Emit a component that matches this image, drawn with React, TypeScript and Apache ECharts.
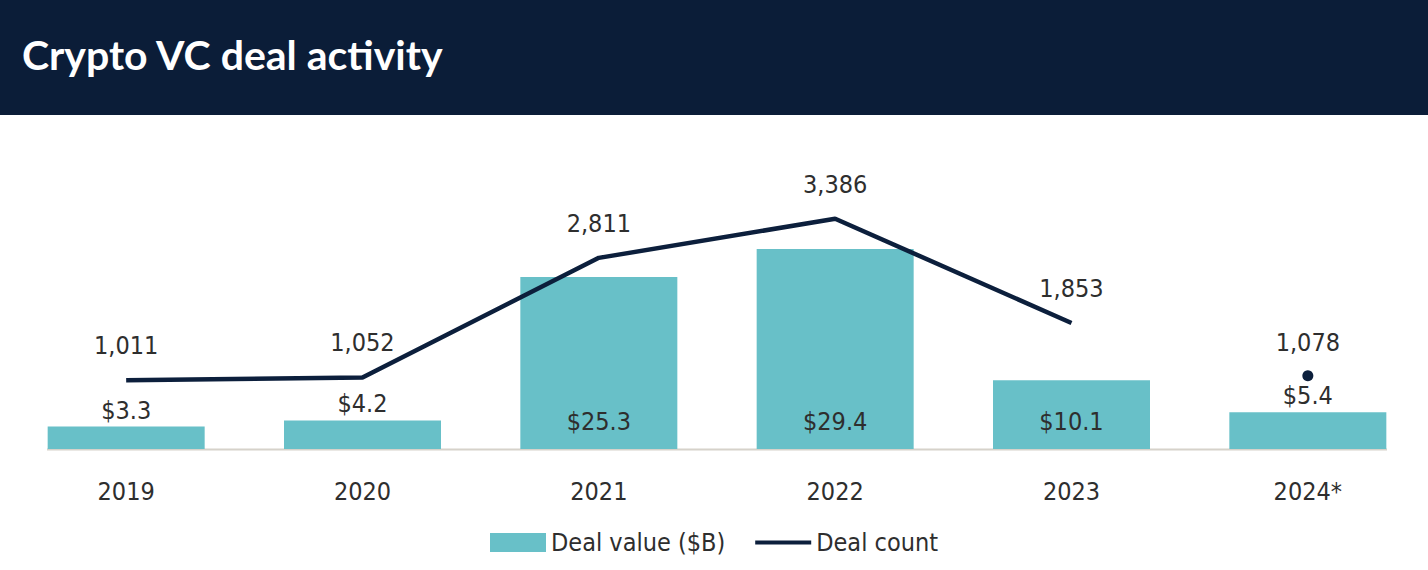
import React, { useEffect, useRef } from "react";
import * as echarts from "echarts";

const categories = ["2019", "2020", "2021", "2022", "2023", "2024*"];
const dealValue = [3.3, 4.2, 25.3, 29.4, 10.1, 5.4];
const dealCount: (number | null)[] = [1011, 1052, 2811, 3386, 1853, null];
const dealCount2024: (number | null)[] = [null, null, null, null, null, 1078];

const FONT = "'DejaVu Sans Condensed', 'Liberation Sans Narrow', sans-serif";
const TEAL = "#68c0c8";
const NAVY = "#0c1f3c";
const TEXT = "#2e2e2e";
const FS = 25;

export default function App() {
  const ref = useRef<HTMLDivElement>(null);
  useEffect(() => {
    if (!ref.current) return;
    const chart = echarts.init(ref.current, null, { renderer: "svg" });
    const fmtCount = (p: any) => Number(p.value).toLocaleString("en-US");
    const toData = (arr: (number | null)[]) => arr.map((v) => (v === null ? "-" : v));
    const countLabel = {
      show: true,
      position: "top",
      fontFamily: FONT,
      fontSize: FS,
      color: TEXT,
      formatter: fmtCount,
    };
    chart.setOption({
      animation: false,
      backgroundColor: "#ffffff",
      title: {
        text: "Crypto VC deal activity",
        left: 17,
        top: 29,
        textStyle: { color: "#ffffff", fontFamily: "Lato", fontWeight: "bold", fontSize: 41 },
      },
      graphic: [
        { type: "rect", z: -1, shape: { x: 0, y: 0, width: 1428, height: 115 }, style: { fill: "#0b1d38" } },
        { type: "line", z: 0, shape: { x1: 47, y1: 449.5, x2: 1387, y2: 449.5 }, style: { stroke: "#d6d2ca", lineWidth: 2 } },
      ],
      legend: {
        bottom: 10,
        left: "center",
        itemWidth: 56,
        itemHeight: 19,
        itemGap: 28,
        data: [
          { name: "Deal value ($B)", icon: "rect" },
          {
            name: "Deal count",
            itemStyle: { opacity: 0, color: "transparent" },
            lineStyle: { width: 4, color: NAVY },
          },
        ],
        textStyle: { fontFamily: FONT, fontSize: FS, color: TEXT },
      },
      grid: { left: 8, right: 2, top: 109, bottom: 121 },
      xAxis: {
        type: "category",
        data: categories,
        axisLine: { show: false },
        axisTick: { show: false },
        axisLabel: { margin: 30, fontFamily: FONT, fontSize: FS, color: TEXT },
      },
      yAxis: [
        { type: "value", min: 0, max: 50, show: false, splitLine: { show: false } },
        { type: "value", min: 0, max: 5000, show: false, splitLine: { show: false } },
      ],
      series: [
        {
          name: "Deal value ($B)",
          type: "bar",
          barWidth: 157,
          yAxisIndex: 0,
          itemStyle: { color: TEAL },
          data: dealValue.map((v) => ({
            value: v,
            label: v > 8
              ? { position: "insideBottom", distance: 15 }
              : { position: "top", distance: 4 },
          })),
          label: {
            show: true,
            fontFamily: FONT,
            fontSize: FS,
            color: TEXT,
            formatter: (p: any) => "$" + Number(p.value).toFixed(1),
          },
          z: 2,
        },
        {
          name: "Deal count",
          type: "line",
          yAxisIndex: 1,
          data: toData(dealCount),
          connectNulls: false,
          showSymbol: false,
          symbol: "none",
          lineStyle: { color: NAVY, width: 4.5 },
          itemStyle: { color: NAVY },
          z: 3,
        },
        {
          name: "Deal count labels",
          type: "scatter",
          yAxisIndex: 1,
          data: toData(dealCount),
          symbolSize: 0,
          silent: true,
          itemStyle: { color: NAVY, opacity: 1 },
          label: { ...countLabel, distance: 22 },
          z: 4,
        },
        {
          name: "Deal count 2024",
          type: "scatter",
          yAxisIndex: 1,
          data: toData(dealCount2024),
          symbolSize: 11,
          itemStyle: { color: NAVY, opacity: 1 },
          label: { ...countLabel, distance: 15 },
          z: 4,
        },
      ],
    });
    return () => chart.dispose();
  }, []);
  return (
    <div
      ref={ref}
      style={{ position: "absolute", left: 0, top: 0, width: 1428, height: 570 }}
    />
  );
}
